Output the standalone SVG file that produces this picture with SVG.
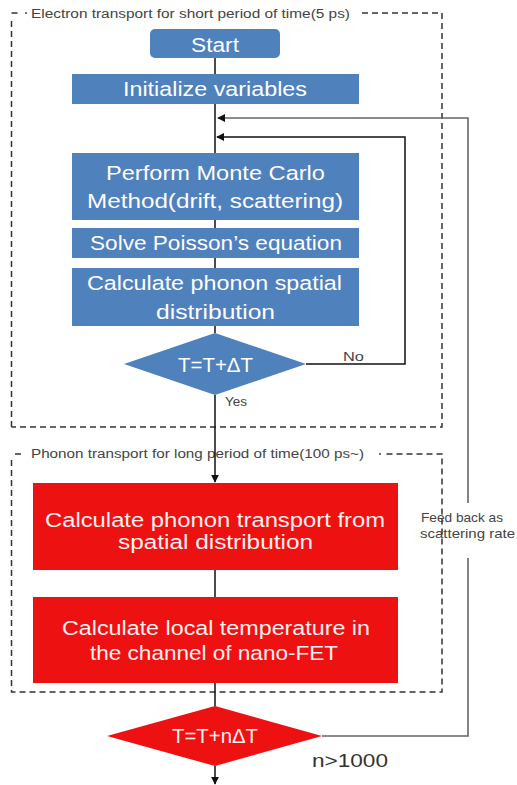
<svg xmlns="http://www.w3.org/2000/svg" width="517" height="785" viewBox="0 0 517 785">
<style>
.bg{fill:#ffffff}
.blue{fill:#4F81BD}
.red{fill:#EE1111}
.wt{font-family:"Liberation Sans",Arial,sans-serif;fill:#ffffff;text-anchor:middle;font-size:20px}
.rt{font-family:"Liberation Sans",Arial,sans-serif;fill:#FFEFEF;text-anchor:middle;font-size:20px}
.lbl{font-family:"Liberation Sans",Arial,sans-serif;fill:#444;font-size:13px}
.ttl{font-family:"Liberation Sans",Arial,sans-serif;fill:#444;font-size:12px}
.dash{fill:none;stroke:#333;stroke-width:1.5;stroke-dasharray:6 4}
.ln{fill:none;stroke:#111;stroke-width:1.5}
.fb{fill:none;stroke:#666;stroke-width:1.6}
</style>
<defs>
<marker id="ah" viewBox="0 0 10 10" refX="9" refY="5" markerWidth="8" markerHeight="8" markerUnits="userSpaceOnUse" orient="auto">
<path d="M0,0 L10,5 L0,10 Z" fill="#111"/>
</marker>
</defs>
<rect class="bg" x="0" y="0" width="517" height="785"/>

<g id="group-electron">
<path class="dash" d="M11.5,427 L11.5,19 M11.5,13 L18,13 M362,13 L442,13 L442,427 L11.5,427" stroke-dasharray="6 4"/>
<circle cx="26" cy="13" r="0.9" fill="#333"/>
<text class="ttl" x="31" y="18" textLength="319" lengthAdjust="spacingAndGlyphs">Electron transport for short period of time(5 ps)</text>
</g>

<g id="group-phonon">
<path class="dash" d="M11.5,460 L11.5,692 L442,692 L442,454 L385,454 M15,454 L22,454"/>
<circle cx="380" cy="454" r="0.9" fill="#333"/>
<text class="ttl" x="31" y="458" textLength="333" lengthAdjust="spacingAndGlyphs">Phonon transport for long period of time(100 ps~)</text>
</g>

<g id="connectors">
<path class="ln" d="M215,58 L215,74"/>
<path class="ln" d="M215,104 L215,153"/>
<path class="ln" d="M215,220 L215,228"/>
<path class="ln" d="M215,258 L215,268"/>
<path class="ln" d="M215,326 L215,333"/>
<path class="ln" d="M215,395 L215,482" marker-end="url(#ah)"/>
<path class="ln" d="M215,570 L215,597"/>
<path class="ln" d="M215,683 L215,706"/>
<path class="ln" d="M215,766 L215,784" marker-end="url(#ah)"/>
<path class="ln" d="M306,364 L405,364 L405,137 L217,137" marker-end="url(#ah)"/>
<path class="fb" d="M322,736 L468,736 L468,558"/>
<path class="fb" d="M468,503 L468,118 L218,118" marker-end="url(#ah)"/>
<text class="lbl" x="343" y="361" textLength="21" lengthAdjust="spacingAndGlyphs">No</text>
<text class="lbl" x="225" y="406" textLength="22" lengthAdjust="spacingAndGlyphs">Yes</text>
<text class="lbl" x="421" y="522" textLength="82" lengthAdjust="spacingAndGlyphs">Feed back as</text>
<text class="lbl" x="420" y="538" textLength="95" lengthAdjust="spacingAndGlyphs">scattering rate</text>
<text x="312" y="767" font-family="Liberation Sans, Arial, sans-serif" font-size="18" fill="#333" textLength="76" lengthAdjust="spacingAndGlyphs">n&gt;1000</text>
</g>

<g id="start">
<rect class="blue" x="150" y="29" width="130" height="29" rx="5"/>
<text class="wt" x="215" y="52" textLength="48" lengthAdjust="spacingAndGlyphs">Start</text>
</g>

<g id="init">
<rect class="blue" x="72" y="74" width="287" height="30"/>
<text class="wt" x="215" y="96" textLength="184" lengthAdjust="spacingAndGlyphs">Initialize variables</text>
</g>

<g id="montecarlo">
<rect class="blue" x="72" y="153" width="287" height="67"/>
<text class="wt" x="215.5" y="180" textLength="219" lengthAdjust="spacingAndGlyphs">Perform Monte Carlo</text>
<text class="wt" x="215" y="208" textLength="256" lengthAdjust="spacingAndGlyphs">Method(drift, scattering)</text>
</g>

<g id="poisson">
<rect class="blue" x="72" y="228" width="287" height="30"/>
<text class="wt" x="216" y="250" textLength="252" lengthAdjust="spacingAndGlyphs">Solve Poisson’s equation</text>
</g>

<g id="phonon-dist">
<rect class="blue" x="72" y="268" width="287" height="58"/>
<text class="wt" x="214.5" y="290" textLength="255" lengthAdjust="spacingAndGlyphs">Calculate phonon spatial</text>
<text class="wt" x="215.5" y="319" textLength="119" lengthAdjust="spacingAndGlyphs">distribution</text>
</g>

<g id="decision1">
<polygon class="blue" points="215,333 306,364 215,395 124,364"/>
<text class="wt" x="215.5" y="372" textLength="75" lengthAdjust="spacingAndGlyphs">T=T+ΔT</text>
</g>

<g id="phonon-transport">
<rect class="red" x="33" y="483" width="365" height="87"/>
<text class="rt" x="215" y="527" textLength="340" lengthAdjust="spacingAndGlyphs">Calculate phonon transport from</text>
<text class="rt" x="215.5" y="549" textLength="195" lengthAdjust="spacingAndGlyphs">spatial distribution</text>
</g>

<g id="local-temp">
<rect class="red" x="33" y="597" width="365" height="86"/>
<text class="rt" x="216" y="635" textLength="308" lengthAdjust="spacingAndGlyphs">Calculate local temperature in</text>
<text class="rt" x="214" y="660" textLength="248" lengthAdjust="spacingAndGlyphs">the channel of nano-FET</text>
</g>

<g id="decision2">
<polygon class="red" points="215,706 322,736 215,766 107,736"/>
<text class="rt" x="215" y="743" textLength="86" lengthAdjust="spacingAndGlyphs">T=T+nΔT</text>
</g>
</svg>
